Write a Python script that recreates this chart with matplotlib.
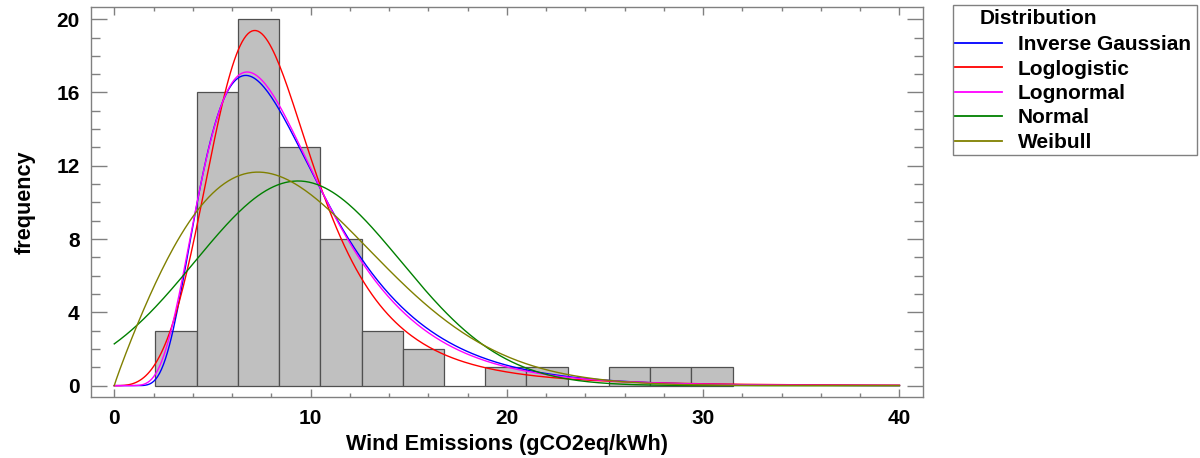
import numpy as np
import matplotlib
matplotlib.use("Agg")
import matplotlib.pyplot as plt
from matplotlib.patches import Rectangle
from matplotlib.lines import Line2D

# Histogram of wind emissions (counts per bin)
bin_start = 2.1
bin_width = 2.1
counts = [3, 16, 20, 13, 8, 3, 2, 0, 1, 1, 0, 1, 1, 1]

# Fitted distribution parameters
normal_mean, normal_sd = 9.36, 5.25
lognorm_mu, lognorm_sigma = 2.1205, 0.456
invgauss_mean, invgauss_lambda = 9.36, 41.2
loglogistic_scale, loglogistic_shape = 8.12, 4.024
weibull_scale, weibull_shape = 10.62, 1.943

dist_names = ["Inverse Gaussian", "Loglogistic", "Lognormal", "Normal", "Weibull"]
dist_colors = ["#0000FF", "#FF0000", "#FF00FF", "#008000", "#808000"]

n_obs = sum(counts)
scale = n_obs * bin_width
edges = bin_start + bin_width * np.arange(len(counts) + 1)


def pdf_invgauss(x, mu, lam):
    x = np.maximum(x, 1e-9)
    return np.sqrt(lam / (2 * np.pi * x ** 3)) * np.exp(-lam * (x - mu) ** 2 / (2 * mu ** 2 * x))


def pdf_loglogistic(x, a, b):
    z = np.maximum(x, 1e-12) / a
    return (b / a) * z ** (b - 1) / (1 + z ** b) ** 2


def pdf_lognormal(x, mu, s):
    x = np.maximum(x, 1e-12)
    return np.exp(-(np.log(x) - mu) ** 2 / (2 * s ** 2)) / (x * s * np.sqrt(2 * np.pi))


def pdf_normal(x, m, s):
    return np.exp(-(x - m) ** 2 / (2 * s ** 2)) / (s * np.sqrt(2 * np.pi))


def pdf_weibull(x, lam, k):
    z = np.maximum(x, 0) / lam
    return (k / lam) * z ** (k - 1) * np.exp(-z ** k)


xs = np.linspace(0, 40, 400)
curves = [
    pdf_invgauss(xs, invgauss_mean, invgauss_lambda),
    pdf_loglogistic(xs, loglogistic_scale, loglogistic_shape),
    pdf_lognormal(xs, lognorm_mu, lognorm_sigma),
    pdf_normal(xs, normal_mean, normal_sd),
    pdf_weibull(xs, weibull_scale, weibull_shape),
]

plt.rcParams["font.family"] = ["Liberation Sans", "DejaVu Sans"]
plt.rcParams["font.weight"] = "bold"

W, H = 1200, 458
fig = plt.figure(figsize=(W / 100, H / 100), dpi=100)
ax_l, ax_r, ax_t, ax_b = 90.7, 923.0, 7.3, 397.0
ax = fig.add_axes([ax_l / W, 1 - ax_b / H, (ax_r - ax_l) / W, (ax_b - ax_t) / H])

ax.bar(edges[:-1], counts, width=bin_width, align="edge", color="#C0C0C0",
       edgecolor="#505050", linewidth=0.9, zorder=1)

handles = []
for y, c, name in zip(curves, dist_colors, dist_names):
    ax.plot(xs, y * scale, color=c, linewidth=1.0, zorder=2)
    handles.append(Line2D([], [], color=c, linewidth=1.3, label=name))

ax.set_xlim(-1.2, 41.2)
ax.set_ylim(-0.62, 20.65)
ax.set_xticks([0, 10, 20, 30, 40])
ax.set_xticks(np.arange(0, 41, 2), minor=True)
ax.set_yticks([0, 4, 8, 12, 16, 20])
ax.set_yticks(np.arange(0, 21, 1), minor=True)

for s in ax.spines.values():
    s.set_color("#808080")
    s.set_linewidth(1.0)

ax.tick_params(axis="both", which="both", direction="in", colors="#808080",
               labelcolor="black", labelsize=15, top=True, right=True)
ax.tick_params(axis="x", which="major", length=6, width=1, pad=9)
ax.tick_params(axis="x", which="minor", length=3.2, width=1)
ax.tick_params(axis="y", which="major", length=11.5, width=1, pad=8)
ax.tick_params(axis="y", which="minor", length=6.3, width=1)
for lab in ax.get_xticklabels() + ax.get_yticklabels():
    lab.set_fontweight("bold")

ax.set_xlabel("Wind Emissions (gCO2eq/kWh)", fontsize=15.6, fontweight="bold", labelpad=4)
ax.set_ylabel("frequency", fontsize=15.6, fontweight="bold", labelpad=14.5)

# Legend box with a left-offset title
fig.patches.append(Rectangle((952.5 / W, 1 - 154.5 / H), (1196.5 - 952.5) / W,
                             (154.5 - 4.5) / H, transform=fig.transFigure,
                             facecolor="white", edgecolor="#808080", linewidth=1.0))
fig.text(980 / W, 1 - 18.5 / H, "Distribution", fontsize=15, fontweight="bold",
         ha="left", va="center")
leg = fig.legend(handles=handles, loc="upper left",
                 bbox_to_anchor=(951 / W, 1 - 31 / H), frameon=False,
                 prop={"size": 15, "weight": "bold"}, handlelength=2.25,
                 handletextpad=0.75, labelspacing=0.26, borderaxespad=0, borderpad=0.2)

fig.savefig("out.png", dpi=100)
